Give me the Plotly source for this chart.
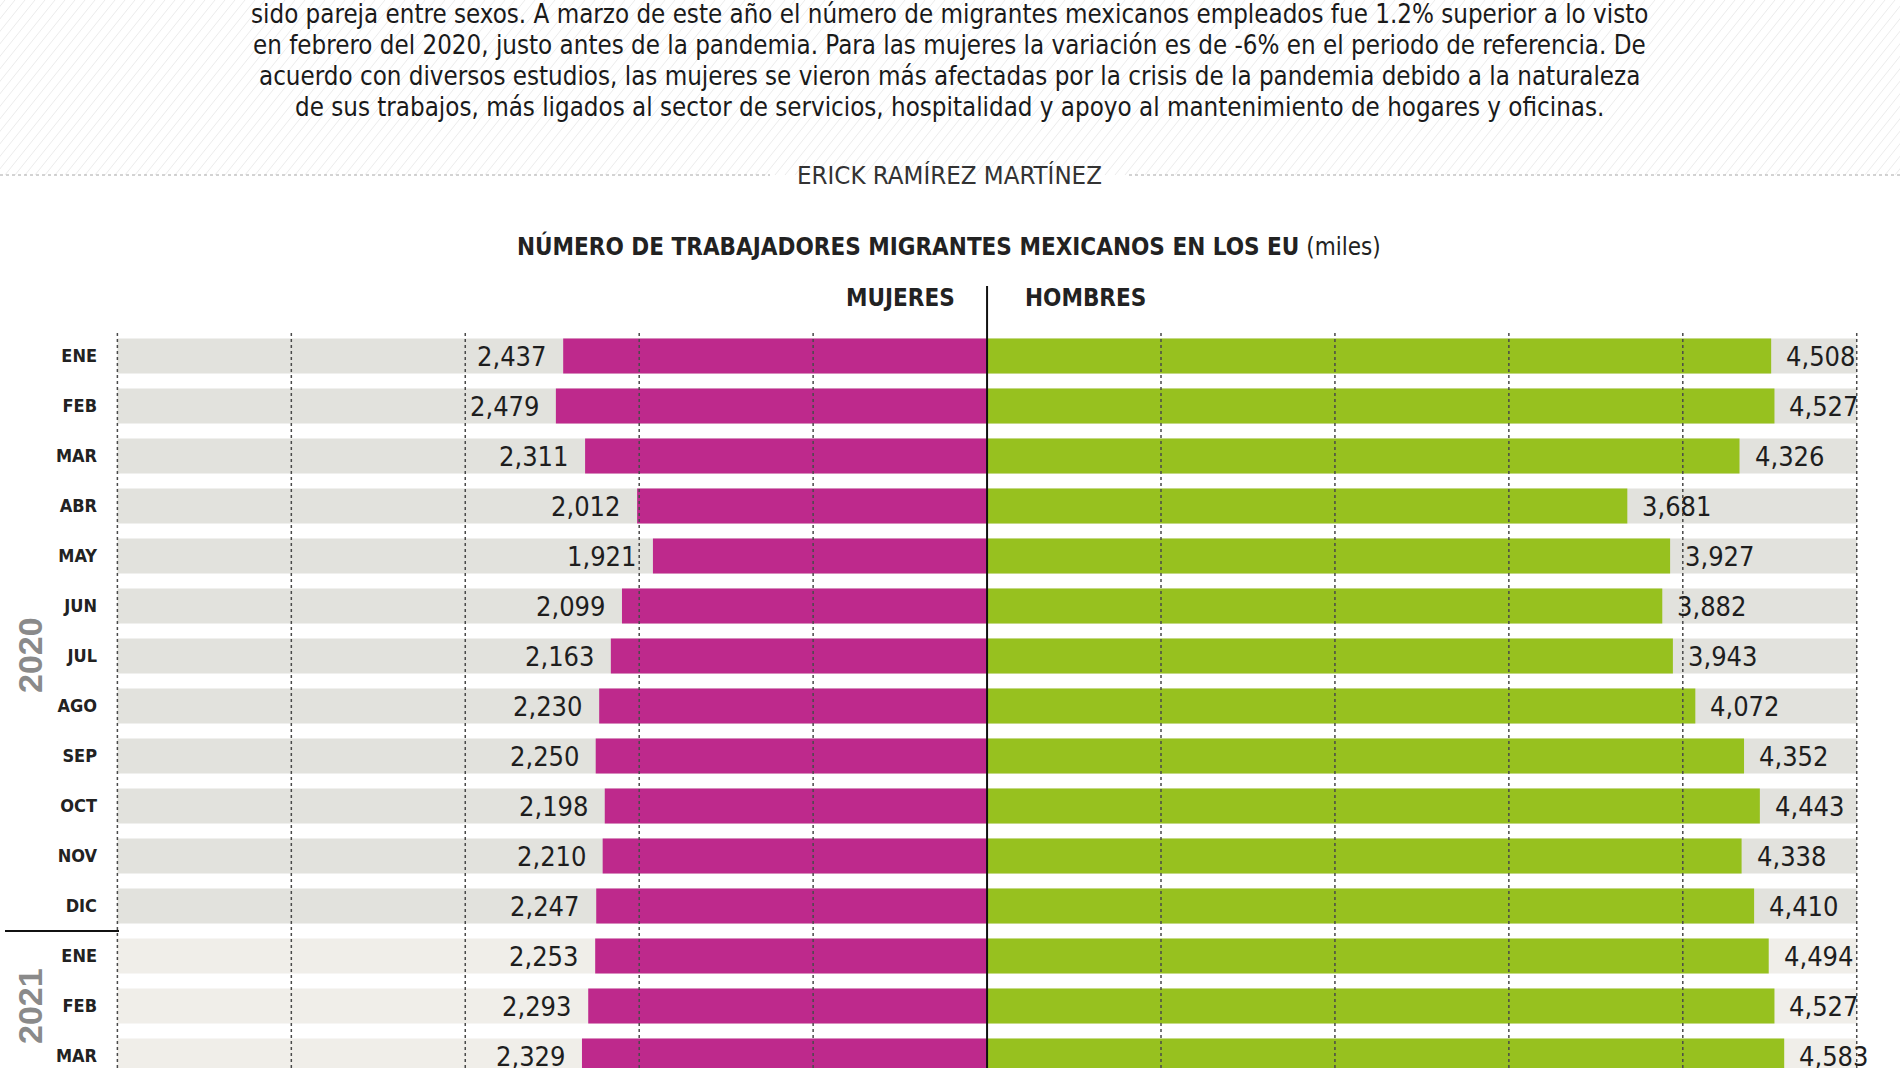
import plotly.graph_objects as go

# ---------------- data ----------------
months = ["ENE", "FEB", "MAR", "ABR", "MAY", "JUN", "JUL", "AGO", "SEP", "OCT", "NOV", "DIC",
          "ENE", "FEB", "MAR"]
years = ["2020"] * 12 + ["2021"] * 3
mujeres = [2437, 2479, 2311, 2012, 1921, 2099, 2163, 2230, 2250, 2198, 2210, 2247, 2253, 2293, 2329]
hombres = [4508, 4527, 4326, 3681, 3927, 3882, 3943, 4072, 4352, 4443, 4338, 4410, 4494, 4527, 4583]
grid_values = [-5000, -4000, -3000, -2000, -1000, 1000, 2000, 3000, 4000, 5000]

body_lines = [
    "sido pareja entre sexos. A marzo de este año el número de migrantes mexicanos empleados fue 1.2% superior a lo visto",
    "en febrero del 2020, justo antes de la pandemia. Para las mujeres la variación es de -6% en el periodo de referencia. De",
    "acuerdo con diversos estudios, las mujeres se vieron más afectadas por la crisis de la pandemia debido a la naturaleza",
    "de sus trabajos, más ligados al sector de servicios, hospitalidad y apoyo al mantenimiento de hogares y oficinas.",
]
author = "ERICK RAMÍREZ MARTÍNEZ"
title_bold = "NÚMERO DE TRABAJADORES MIGRANTES MEXICANOS EN LOS EU"
title_unit = "(miles)"

# ---------------- style ----------------
W, H = 1900, 1068
PLOT_L, PLOT_R, PLOT_T = 100, 1895, 330
MAGENTA = "#be298c"
GREEN = "#97c11f"
GRAY20 = "#e2e2dd"
GRAY21 = "#f0eee9"
COND = "DejaVu Sans Condensed, Roboto, sans-serif"
BAND = 5000
YEAR_LABEL_SHIFT = {"2020": 0.48, "2021": 0.0}


def px(x):
    return x / W


def py(y):
    return 1 - y / H


n = len(months)
rows = list(range(n))
band_colors = [GRAY20 if y == "2020" else GRAY21 for y in years]

fig = go.Figure()
fig.add_trace(go.Bar(y=rows, x=[2 * BAND] * n, base=[-BAND] * n, orientation="h",
                     marker=dict(color=band_colors, line_width=0), width=0.7,
                     hoverinfo="skip", showlegend=False))
fig.add_trace(go.Bar(y=rows, x=[-v for v in mujeres], orientation="h", name="MUJERES",
                     marker=dict(color=MAGENTA, line_width=0), width=0.7, showlegend=False))
fig.add_trace(go.Bar(y=rows, x=hombres, orientation="h", name="HOMBRES",
                     marker=dict(color=GREEN, line_width=0), width=0.7, showlegend=False))

annotations = []
for i, (w, m) in enumerate(zip(mujeres, hombres)):
    annotations.append(dict(x=-w, y=i, xref="x", yref="y", text=f"{w:,}", showarrow=False,
                            xanchor="right", yanchor="middle", xshift=-14,
                            font=dict(family=COND, size=27, color="#1e1e1e")))
    annotations.append(dict(x=m, y=i, xref="x", yref="y", text=f"{m:,}", showarrow=False,
                            xanchor="left", yanchor="middle", xshift=13,
                            font=dict(family=COND, size=27, color="#1e1e1e")))

# year labels
for yr in sorted(set(years)):
    idx = [i for i, y in enumerate(years) if y == yr]
    annotations.append(dict(x=px(30), y=(idx[0] + idx[-1]) / 2 + YEAR_LABEL_SHIFT[yr],
                            xref="paper", yref="y",
                            text=f"<b>{yr}</b>", textangle=-90, showarrow=False,
                            xanchor="center", yanchor="middle",
                            font=dict(family="Liberation Sans", size=34, color="#8a8a8a")))

# header text
for k, line in enumerate(body_lines):
    annotations.append(dict(x=px(949), y=py(14 + 31 * k), xref="paper", yref="paper", text=line,
                            showarrow=False, xanchor="center", yanchor="middle",
                            font=dict(family=COND, size=25.7, color="#1a1a1a")))
annotations.append(dict(x=px(949), y=py(175), xref="paper", yref="paper", text=author,
                        showarrow=False, xanchor="center", yanchor="middle",
                        font=dict(family=COND, size=25.6, color="#333333")))
annotations.append(dict(x=px(949), y=py(246), xref="paper", yref="paper",
                        text=f"<b>{title_bold}</b> {title_unit}",
                        showarrow=False, xanchor="center", yanchor="middle",
                        font=dict(family=COND, size=24, color="#222222")))
annotations.append(dict(x=px(957), y=py(298), xref="paper", yref="paper", text="<b>MUJERES</b>",
                        showarrow=False, xanchor="right", yanchor="middle",
                        font=dict(family=COND, size=24, color="#222222")))
annotations.append(dict(x=px(1023), y=py(298), xref="paper", yref="paper", text="<b>HOMBRES</b>",
                        showarrow=False, xanchor="left", yanchor="middle",
                        font=dict(family=COND, size=24, color="#222222")))

shapes = []
# hatched header background
segs = []
step = 10
hh = 175
for x0 in range(-hh, W + step, step):
    segs.append(f"M{px(x0):.5f},{py(hh):.5f} L{px(x0 + hh * 0.8):.5f},{py(0):.5f}")
shapes.append(dict(type="path", path=" ".join(segs), xref="paper", yref="paper",
                   line=dict(color="#ebebeb", width=1), layer="below"))
# dotted rule under header, broken around the author
for a, b in [(0, 770), (1129, W)]:
    shapes.append(dict(type="line", xref="paper", yref="paper", x0=px(a), x1=px(b),
                       y0=py(175), y1=py(175),
                       line=dict(color="#a8a8a8", width=1, dash="dot"), layer="below"))
# gridlines above bars
for g in grid_values:
    shapes.append(dict(type="line", xref="x", yref="paper", x0=g, x1=g, y0=0, y1=py(PLOT_T),
                       line=dict(color="#4a4a4a", width=1.5, dash="dot"), layer="above"))
# center line
shapes.append(dict(type="line", xref="x", yref="paper", x0=0, x1=0, y0=0, y1=py(286),
                   line=dict(color="#111111", width=2), layer="above"))
# year divider
shapes.append(dict(type="line", xref="paper", yref="y", x0=px(5), x1=px(119),
                   y0=11.5, y1=11.5, line=dict(color="#111111", width=2)))

fig.update_layout(
    width=W, height=H,
    margin=dict(l=0, r=0, t=0, b=0),
    paper_bgcolor="white", plot_bgcolor="white",
    barmode="overlay", bargap=0.3,
    showlegend=False,
    annotations=annotations,
    shapes=shapes,
    xaxis=dict(domain=[px(PLOT_L), px(PLOT_R)], range=[-5100, 5220], showgrid=False,
               zeroline=False, showticklabels=False, ticks=""),
    yaxis=dict(domain=[0, py(PLOT_T)], range=[(H - PLOT_T) / 50 - 0.52, -0.52],
               tickmode="array", tickvals=rows, ticktext=months, showgrid=False,
               zeroline=False, ticks="", ticklabelstandoff=2,
               tickfont=dict(family=COND, size=18, color="#222222", weight="bold")),
)

fig.write_html("out.html", config={"displayModeBar": False},
               post_script="document.body.style.margin='0';document.body.style.overflow='hidden';")
